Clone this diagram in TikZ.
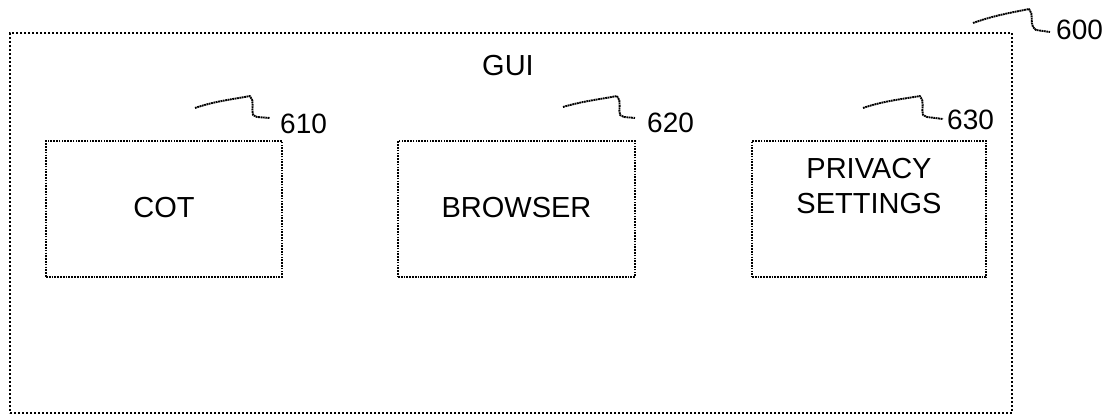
\documentclass[tikz,border=0pt]{standalone}
\usepackage{fontspec}
\setmainfont{Liberation Sans}
\begin{document}
\begin{tikzpicture}[x=1pt,y=-1pt,
  outerbox/.style={draw=black, line width=1.6pt, dash pattern=on 1.6pt off 2.4pt},
  modbox/.style={draw=black, line width=1.7pt, dash pattern=on 1.7pt off 1.1pt, minimum width=#1, minimum height=136pt, inner sep=0pt},
  modbox/.default=236pt,
  lbl/.style={font=\fontsize{29}{35}\selectfont, inner sep=0pt},
  refnum/.style={font=\fontsize{28}{34}\selectfont, inner sep=0pt, anchor=base west},
  leader/.style={draw=black, line width=1.9pt, dash pattern=on 1.8pt off 0.6pt, line join=round}]
\useasboundingbox (0,0) rectangle (1112,417);

% enclosing GUI frame
\node[outerbox, minimum width=1002pt, minimum height=380pt, inner sep=0pt] (gui) at (511,223) {};
\node[lbl] (guilabel) at (508,66) {GUI};

% modules
\node[modbox=236pt] (cot) at (164,209) {};
\node[lbl] (cottext) at (164,208) {COT};
\node[modbox=237pt] (browser) at (516.5,209) {};
\node[lbl] (browsertext) at (516.5,208) {BROWSER};
\node[modbox=234pt] (privacy) at (869,209) {};
\node[lbl, align=center] (privacytext) at (869,186) {PRIVACY\\SETTINGS};

% reference numerals
\node[refnum] (n600) at (1056,40) {600};
\node[refnum] (n610) at (280,134) {610};
\node[refnum] (n620) at (647,133) {620};
\node[refnum] (n630) at (947,130) {630};

% leader lines
\coordinate (s600) at (973,23);
\coordinate (s610) at (195,108);
\coordinate (s620) at (563,107);
\coordinate (s630) at (863,108);

\draw[leader] (s600) .. controls (995,15) and (1015,12) .. (1029,9)
  .. controls (1034,14) and (1030,22) .. (1033,27) -- (1036,30) -- (1050,32);
\draw[leader] (s610) .. controls (215,101) and (235,99) .. (250,96)
  .. controls (255,101) and (251,110) .. (253,115) -- (257,117) -- (270,118);
\draw[leader] (s620) .. controls (583,101) and (602,99) .. (617,96)
  .. controls (622,101) and (618,110) .. (620,115) -- (624,117) -- (635,118);
\draw[leader] (s630) .. controls (883,101) and (903,99) .. (920,96)
  .. controls (925,101) and (921,110) .. (923,115) -- (927,117) -- (943,119);
\end{tikzpicture}
\end{document}
